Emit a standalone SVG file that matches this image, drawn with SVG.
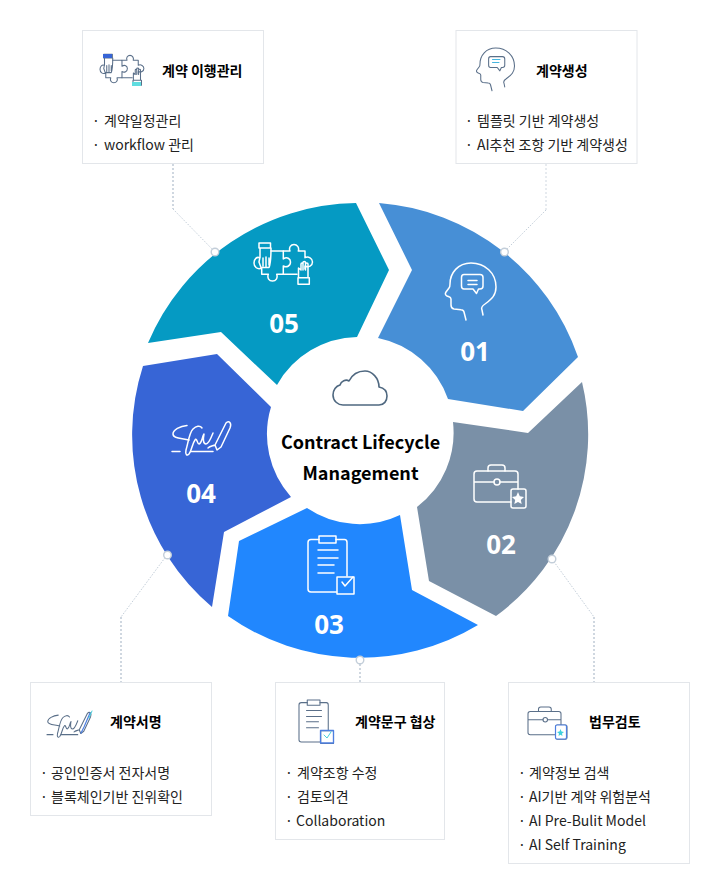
<svg xmlns="http://www.w3.org/2000/svg" width="720" height="894" viewBox="0 0 720 894">
<style>
text{font-family:"Noto Sans CJK KR","Noto Sans",sans-serif;fill:#1a1a1a}
.box{fill:#fff;stroke:#e3e6ea;stroke-width:1}
.t{font-size:14px;font-weight:700;fill:#000}
.i{font-size:14px;font-weight:400;fill:#222}
.n{font-size:26px;font-weight:700;fill:#fff;text-anchor:middle;font-family:"Noto Sans","Noto Sans CJK KR",sans-serif}
.c{font-size:18px;font-weight:700;fill:#000;text-anchor:middle}
.ic{fill:none;stroke-linecap:round;stroke-linejoin:round}
.w{stroke:#fff;stroke-width:1.5}
.s{stroke:#5a6f89;stroke-width:1.4}
.l1{fill:none;stroke:#c3ced9;stroke-width:1;stroke-dasharray:1.5 1.5}
.l2{fill:none;stroke:#cfd7e0;stroke-width:2;stroke-dasharray:2 2}
.dot{fill:#fff;stroke:#c3ced9;stroke-width:1.4}
</style>
<defs>
<g id="head"><path d="M20 57L18 49C17.500 47 16.500 46.700 15 46.700L8 46C5.500 45.500 5 44 5 42V36C5 34 3.500 34 1 33C-1 32 -1 30.500 0 29L3 25C4 24 4 23 4 21C4 10 12 0 25 0C39 0 50 10 50 24C50 32 46 36 39 41C36 43 35 45 36 47L37 52"/><path d="M18 11.500H34C36 11.500 37 12.500 37 14.500V23C37 25 36 26 34 26H32.500L30.500 30.500L27 26H18C16 26 15.500 25 15.500 23V14.500C15.500 12.500 16 11.500 18 11.500Z"/></g>
<g id="puzzle"><path d="M17 11H29.300V19C33 16.500 36.500 18.500 36.500 22C36.500 26 32.500 28 29.300 26V34.300H22.700C24 38 22 41 18.500 41C15 41 13 38 14.300 34.300H7.700V28C3.500 30 0 27 0 23C0 19 3 16.500 5.500 17.700"/><path d="M29.300 11H36C34.500 7.500 37 4.500 40 4.500C43 4.500 45.500 7.500 44.300 11H51V17.700C54.500 16 58.500 18.500 58.500 22C58.500 25.500 54.500 28 51 26V29"/><path d="M29.300 34.300H43"/><path d="M5 3H16.500V8H5ZM6 8V17L5 22L7 27.500H15C16.500 24 17 20 17 8M9 18V26M12 17V27M15 18V25"/><path d="M44 37.700H55.300V44.300H44ZM44.500 37.700V28L47 30V24C47 22.500 49 22.500 49 24V30V22.500C49 21 51.500 21 51.500 22.500V30V24C51.500 22.500 54 22.500 54 24V37.700"/></g>
<g id="sign"><path d="M15 5.500C8 6 1 10 1 14C1 19 10 18 17 20"/><path d="M0 31.500H8M19 31.500H41"/><path d="M30 8C28 5 24 6 21 9C17 13 16 24 14 30C13 35 15 36 17 34C20 30 20 24 23 20C25 17 25 24 27 24C30 23 30 17 32 14C31 19 31 24 34 24C37 24 39 18 41 13"/><path d="M43 25L45 30L49 27L58 8C60 3 57 0 54 3ZM36 28C38 26 41 26 43 25"/></g>
<g id="clip"><path d="M11 3.500H3C1 3.500 0 4.500 0 6.500V53C0 55 1 56 3 56H28.500M28 3.500H36.500C38.500 3.500 39 4.500 39 6.500V40"/><path d="M11 0H28V7H11ZM10 14H30M10 22H30M10 29H26M10 37H26"/><path d="M29 41H46V58H29Z"/></g>
<g id="case"><path d="M14 6V3C14 1 15 0 17 0H28C30 0 31 1 31 3V6"/><path d="M3 6H41C43 6 44 7 44 9V24M37 37H3C1 37 0 36 0 34V9C0 7 1 6 3 6M0 17H20M26 17H44"/><circle cx="23" cy="17" r="3"/><rect x="37" y="24" width="15" height="19" rx="2"/></g>
</defs>

<g id="connectors">
<path class="l2" d="M173 164V209"/><path class="l1" d="M173 209L215 252"/>
<path class="l2" d="M546 164V210" style="stroke-width:1"/><path class="l1" d="M546 210L504 252"/>
<path class="l1" d="M552 559L594 617"/><path class="l2" d="M594 617V682"/>
<path class="l2" d="M360 660V682"/>
<path class="l1" d="M167 555L121 617"/><path class="l2" d="M121 617V682"/>
</g>

<g id="segment-05">
<path fill="#059ac3" d="M148 343A229 229 0 0 1 356 203L389 270L357 337A94 94 0 0 0 277 385L221 332Z"/>
<use href="#puzzle" class="ic w" transform="translate(254 240)"/>
<text class="n" x="284" y="333">05</text>
</g>
<g id="segment-01">
<path fill="#478fd6" d="M379 203A229 229 0 0 1 578 357L523 411L448 399A94 94 0 0 0 378 338L412 270Z"/>
<use href="#head" class="ic w" transform="translate(446 263)"/>
<path class="ic w" d="M468 280.500H477M468 284.500H477"/>
<text class="n" x="475" y="361">01</text>
</g>
<g id="segment-02">
<path fill="#7a90a7" d="M582 382A225 225 0 0 1 496 616L429 581L417 507A94 94 0 0 0 453 422L528 433Z"/>
<use href="#case" class="ic w" transform="translate(474 465)"/>
<path fill="#fff" d="M518 492L519.800 496.300L524 497L520.800 500L521.700 504L518 502L514.300 504L515.200 500L512 497L516.200 496.300Z"/>
<text class="n" x="501" y="554">02</text>
</g>
<g id="segment-03">
<path fill="#2187fe" d="M228 616A229 229 0 0 0 478 625L412 590L400 515A94 94 0 0 1 307 508L239 541Z"/>
<use href="#clip" class="ic w" transform="translate(308 536)"/>
<path class="ic w" d="M342 582L345 586L353 577"/>
<text class="n" x="329" y="634">03</text>
</g>
<g id="segment-04">
<path fill="#3765d6" d="M212 607A225 225 0 0 1 143 366L217 354L271 407A94 94 0 0 0 291 497L224 532Z"/>
<use href="#sign" class="ic w" transform="translate(172 420)"/>
<text class="n" x="201" y="503">04</text>
</g>
<g id="center">
<path class="ic" stroke="#4f6880" stroke-width="1.6" d="M343 405H379C384 405 387 401 387 396C387 391 384 388 379 387C379 378 372 371 365 371C358 371 352 375 349 381C346 379 341 381 340 385C336 386 333 390 333 395C333 401 338 405 343 405Z"/>
<text class="c" x="360.500" y="449">Contract Lifecycle</text>
<text class="c" x="360.500" y="480">Management</text>
</g>
<g id="dots">
<circle class="dot" cx="215" cy="252" r="3.800"/><circle class="dot" cx="504.500" cy="252" r="3.800"/><circle class="dot" cx="552" cy="559" r="3.800"/><circle class="dot" cx="360" cy="660" r="3.800"/><circle class="dot" cx="167.500" cy="555" r="3.800"/>
</g>

<g id="box-05">
<rect class="box" x="82.500" y="30.500" width="181" height="133"/>
<use href="#puzzle" class="ic s" transform="translate(100 52) scale(.75)"/>
<rect x="103" y="54" width="9" height="4" fill="#3765d6"/><rect x="132" y="82" width="9" height="4" fill="#5fdde0"/>
<text class="t" x="162" y="76">계약 이행관리</text>
<text class="i" x="92" y="126">· </text><text class="i" x="104" y="126">계약일정관리</text>
<text class="i" x="92" y="150">· </text><text class="i" x="104" y="150">workflow 관리</text>
</g>
<g id="box-01">
<rect class="box" x="456" y="30.500" width="181" height="133"/>
<use href="#head" class="ic s" transform="translate(477 48) scale(.75)"/>
<path class="ic" stroke="#46b6e0" stroke-width="1" d="M492.500 59.500H500M492.500 62.500H499"/>
<text class="t" x="536" y="76">계약생성</text>
<text class="i" x="465" y="126">· </text><text class="i" x="477" y="126">템플릿 기반 계약생성</text>
<text class="i" x="465" y="150">· </text><text class="i" x="477" y="150">AI추천 조항 기반 계약생성</text>
</g>
<g id="box-04">
<rect class="box" x="30.500" y="682.500" width="181" height="133"/>
<use href="#sign" class="ic s" transform="translate(47 711) scale(.75)"/>
<path class="ic" stroke="#4d7fe0" stroke-width="1.200" d="M81 733L84 727L90 713"/>
<path class="ic" stroke="#46d0dc" stroke-width="1" d="M89 718L92 711"/>
<text class="t" x="110" y="727">계약서명</text>
<text class="i" x="40" y="778">· </text><text class="i" x="51" y="778">공인인증서 전자서명</text>
<text class="i" x="40" y="802">· </text><text class="i" x="51" y="802">블록체인기반 진위확인</text>
</g>
<g id="box-03">
<rect class="box" x="275.500" y="682.500" width="169" height="157"/>
<use href="#clip" class="ic s" transform="translate(299 700) scale(.75)"/>
<path class="ic" stroke="#4d7fe0" stroke-width="1.300" d="M320.500 730.500H333.500V743H320.500Z"/>
<path class="ic" stroke="#46d0dc" stroke-width="1" d="M324 735L327 738L331 732"/>
<text class="t" x="355" y="727">계약문구 협상</text>
<text class="i" x="285" y="778">· </text><text class="i" x="297" y="778">계약조항 수정</text>
<text class="i" x="285" y="802">· </text><text class="i" x="297" y="802">검토의견</text>
<text class="i" x="285" y="826">· </text><text class="i" x="296" y="826">Collaboration</text>
</g>
<g id="box-02">
<rect class="box" x="508.500" y="682.500" width="181" height="181"/>
<use href="#case" class="ic s" transform="translate(528 707) scale(.75)"/>
<rect x="555.500" y="725" width="11" height="14" rx="1.500" fill="#fff" stroke="#4d7fe0" stroke-width="1.200"/>
<path fill="#3fd0dc" d="M560.500 729L561.500 731.500L564 732L562 733.500L562.500 736L560.500 734.700L558.500 736L559 733.500L557 732L559.500 731.500Z"/>
<text class="t" x="589" y="727">법무검토</text>
<text class="i" x="518" y="778">· </text><text class="i" x="529" y="778">계약정보 검색</text>
<text class="i" x="518" y="802">· </text><text class="i" x="529" y="802">AI기반 계약 위험분석</text>
<text class="i" x="518" y="826">· </text><text class="i" x="529" y="826">AI Pre-Bulit Model</text>
<text class="i" x="518" y="850">· </text><text class="i" x="529" y="850">AI Self Training</text>
</g>
</svg>
